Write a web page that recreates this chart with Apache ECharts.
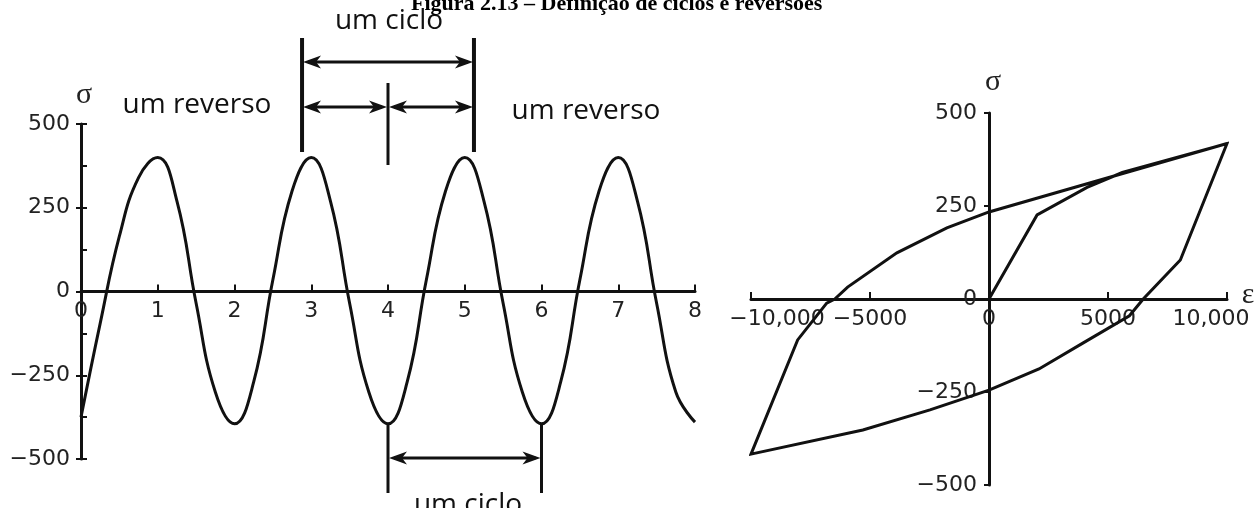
<!DOCTYPE html>
<html>
<head>
<meta charset="utf-8">
<script src="https://cdn.jsdelivr.net/npm/echarts@6/dist/echarts.min.js"></script>
<style>
  html, body { margin: 0; padding: 0; background: #fff; }
  #chart { width: 1256px; height: 508px; }
</style>
</head>
<body>
<div id="chart"></div>
<script>
// ---- Left panel: stress history against reversal count ----
const reversalSteps = [0, 0.25, 0.5, 0.75, 1, 1.25, 1.5, 1.75, 2, 2.25, 2.5, 2.75, 3, 3.25, 3.5, 3.75,
                       4, 4.25, 4.5, 4.75, 5, 5.25, 5.5, 5.75, 6, 6.25, 6.5, 6.75, 7, 7.25, 7.5, 7.75, 8];
const stressHistory = [-375, -95, 165, 340, 400, 270, -35, -300, -395, -270, 35, 300, 400, 270, -35, -300,
                       -395, -270, 35, 300, 400, 270, -35, -300, -395, -270, 35, 300, 400, 270, -35, -300, -390];
const leftXRange = [0, 8, 1];          // min, max, step
const leftYRange = [-500, 500, 250];   // min, max, step

// ---- Right panel: stress–strain hysteresis loop (loading, unloading, reloading) ----
const strainPath = [0, 2020, 4120, 5600, 10000,
                    8040, 6480, 5900, 3960, 2100, 0, -2480, -5300, -10000,
                    -8040, -6820, -6480, -5940, -3870, -1770, 0, 10000];
const stressPath = [0, 226, 300, 340, 418,
                    105, 0, -45, -118, -188, -245, -298, -352, -417,
                    -110, -11, 0, 32, 124, 191, 234, 418];
const rightXRange = [-10000, 10000, 5000];
const rightYRange = [-500, 500, 250];

const INK = '#111';
const LABEL = '#222';
const TICK_FONT = { fontFamily: 'DejaVu Sans', fontSize: 22, color: LABEL };
const NOTE_FONT = '28px "Open Sans"';
const SYMBOL_FONT = '30px "Liberation Serif"';

// plot areas (the axes cross at the origin of each panel)
const leftGrid = { left: 81, top: 124, width: 614, height: 335 };
const rightGrid = { left: 751, top: 113, width: 476, height: 372 };

function signed(v) {
  const a = Math.abs(v);
  const s = a >= 10000 ? a.toLocaleString('en-US') : String(a);
  return (v < 0 ? '\u2212' : '') + s;
}
// distance from the grid edge to where the value 0 sits
function zeroShift(range, size) {
  return size * (0 - range[0]) / (range[1] - range[0]);
}

const chart = echarts.init(document.getElementById('chart'), null, { renderer: 'canvas' });

const axisLine = { show: true, onZero: false, lineStyle: { color: INK, width: 3 } };

chart.setOption({
  animation: false,
  backgroundColor: '#fff',
  grid: [leftGrid, rightGrid],
  xAxis: [
    {
      gridIndex: 0, type: 'value', position: 'bottom',
      offset: -zeroShift(leftYRange, leftGrid.height),
      min: leftXRange[0], max: leftXRange[1], interval: leftXRange[2],
      axisLine: axisLine,
      axisTick: { show: true, inside: true, length: 7, lineStyle: { color: INK, width: 2 } },
      axisLabel: Object.assign({ margin: 9 }, TICK_FONT),
      splitLine: { show: false }
    },
    {
      gridIndex: 1, type: 'value', position: 'bottom',
      offset: -zeroShift(rightYRange, rightGrid.height),
      min: rightXRange[0], max: rightXRange[1], interval: rightXRange[2],
      axisLine: axisLine,
      axisTick: { show: true, inside: true, length: 7, lineStyle: { color: INK, width: 2 } },
      axisLabel: Object.assign({
        margin: 9,
        formatter: v => v === rightXRange[0] ? '{lo|' + signed(v) + '}'
                      : v === rightXRange[1] ? '{hi|' + signed(v) + '}' : signed(v),
        rich: {
          lo: Object.assign({ padding: [0, 0, 0, 52] }, TICK_FONT),
          hi: Object.assign({ padding: [0, 32, 0, 0] }, TICK_FONT)
        }
      }, TICK_FONT),
      splitLine: { show: false }
    }
  ],
  yAxis: [
    {
      gridIndex: 0, type: 'value', position: 'left',
      min: leftYRange[0], max: leftYRange[1], interval: leftYRange[2],
      axisLine: axisLine,
      axisTick: { show: true, length: 5, lineStyle: { color: INK, width: 2 } },
      axisLabel: Object.assign({ margin: 11, formatter: signed }, TICK_FONT),
      splitLine: { show: false }
    },
    {
      // inner half-step ticks on the left stress axis
      gridIndex: 0, type: 'value', position: 'left',
      min: leftYRange[0], max: leftYRange[1], interval: leftYRange[2] / 2,
      axisLine: { show: false, onZero: false },
      axisTick: { show: true, inside: true, length: 6, lineStyle: { color: INK, width: 2 } },
      axisLabel: { show: false },
      splitLine: { show: false }
    },
    {
      gridIndex: 1, type: 'value', position: 'left',
      offset: -zeroShift(rightXRange, rightGrid.width),
      min: rightYRange[0], max: rightYRange[1], interval: rightYRange[2],
      axisLine: axisLine,
      axisTick: { show: true, length: 5, lineStyle: { color: INK, width: 2 } },
      axisLabel: Object.assign({ margin: 12, formatter: signed }, TICK_FONT),
      splitLine: { show: false }
    }
  ],
  series: [
    {
      type: 'line', xAxisIndex: 0, yAxisIndex: 0,
      data: reversalSteps.map((t, i) => [t, stressHistory[i]]),
      smooth: 0.45, showSymbol: false, silent: true,
      lineStyle: { color: INK, width: 3 }
    },
    {
      type: 'line', xAxisIndex: 1, yAxisIndex: 2,
      data: strainPath.map((e, i) => [e, stressPath[i]]),
      smooth: false, showSymbol: false, silent: true,
      lineStyle: { color: INK, width: 3, join: 'miter' }
    }
  ]
});

// ---- Cycle / reversal annotations on the left panel ----
const px = x => chart.convertToPixel({ gridIndex: 0 }, [x, 0])[0];

function vLine(x, y1, y2, w) {
  return { type: 'line', silent: true, shape: { x1: x, y1: y1, x2: x, y2: y2 },
           style: { stroke: INK, lineWidth: w } };
}
function head(x, y, dir) {
  const L = 18, H = 6.5;
  return { type: 'polygon', silent: true,
           shape: { points: [[x, y], [x + dir * L, y - H], [x + dir * (L - 5), y], [x + dir * L, y + H]] },
           style: { fill: INK } };
}
function dblArrow(x1, x2, y, w) {
  return [
    { type: 'line', silent: true, shape: { x1: x1 + 6, y1: y, x2: x2 - 6, y2: y },
      style: { stroke: INK, lineWidth: w } },
    head(x1 + 1, y, 1),
    head(x2 - 1, y, -1)
  ];
}
function note(text, x, y) {
  return { type: 'text', silent: true, x: x, y: y,
           style: { text: text, font: NOTE_FONT, fill: '#111', align: 'center', verticalAlign: 'middle' } };
}
function symbol(text, x, y) {
  return { type: 'text', silent: true, x: x, y: y,
           style: { text: text, font: SYMBOL_FONT, fill: '#222', align: 'center', verticalAlign: 'middle' } };
}

const xa = px(2.88), xb = px(5.12), xm = px(4), xc = px(6);

const graphics = [
  vLine(xa, 38, 152, 4),
  vLine(xb, 38, 152, 4),
  vLine(xm, 83, 165, 3),
  ...dblArrow(xa, xb, 62, 3),
  ...dblArrow(xa, xm, 107, 3),
  ...dblArrow(xm, xb, 107, 3),
  vLine(xm, 424, 493, 3),
  vLine(xc, 424, 493, 3),
  ...dblArrow(xm, xc, 458, 3),
  note('um ciclo', 389, 21),
  note('um reverso', 197, 105),
  note('um reverso', 586, 111),
  note('um ciclo', 468, 505),
  symbol('\u03c3', 84, 95),
  symbol('\u03c3', 993, 82),
  symbol('\u03b5', 1248, 295),
  { type: 'text', silent: true, x: 411, y: 15,
    style: { text: 'Figura 2.13 \u2013 Defini\u00e7\u00e3o de ciclos e revers\u00f5es',
             font: 'bold 22px "Liberation Serif"', fill: '#000', align: 'left', verticalAlign: 'bottom' } }
];

chart.setOption({ graphic: graphics });
</script>
</body>
</html>
